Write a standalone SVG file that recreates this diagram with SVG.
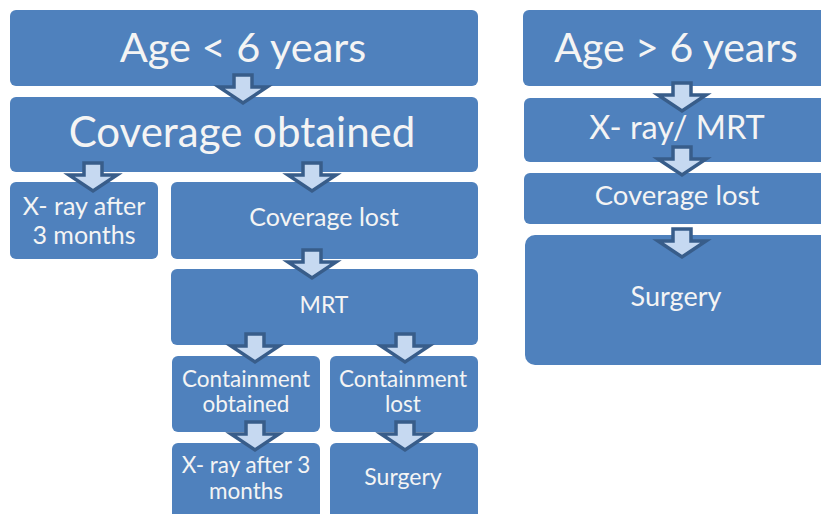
<svg xmlns="http://www.w3.org/2000/svg" xmlns:xlink="http://www.w3.org/1999/xlink" width="821" height="514" viewBox="0 0 821 514">
<style>
.box{fill:#4F81BD;}
.t{fill:#F4F4F4;font-family:Lato,"Liberation Sans",sans-serif;text-anchor:middle;}
.arr{fill:#C6D9F1;stroke:#385D8A;stroke-width:3.5;stroke-linejoin:miter;}
</style>
<defs>
<path id="ar" class="arr" d="M-9,0 h18 v12 h15 l-24,16 l-24,-16 h15 z"/>
</defs>
<rect width="821" height="514" fill="#FFFFFF"/>
<g id="n1"><rect class="box" x="10" y="10" width="468" height="76" rx="6"/><text class="t" x="243" y="62" font-size="41.5">Age &lt; 6 years</text></g>
<g id="n2"><rect class="box" x="10" y="97" width="468" height="75" rx="6"/><text class="t" x="242" y="147" font-size="42">Coverage obtained</text></g>
<g id="n3"><rect class="box" x="10" y="182" width="148" height="77" rx="6"/><text class="t" x="84" y="215" font-size="25">X- ray after</text><text class="t" x="84" y="244" font-size="25">3 months</text></g>
<g id="n4"><rect class="box" x="171" y="182" width="307" height="77" rx="6"/><text class="t" x="324" y="226" font-size="25">Coverage lost</text></g>
<g id="n5"><rect class="box" x="171" y="269" width="307" height="76" rx="6"/><text class="t" x="324" y="313" font-size="23">MRT</text></g>
<g id="n6"><rect class="box" x="172" y="356" width="148" height="76" rx="6"/><text class="t" x="246" y="387" font-size="22.5">Containment</text><text class="t" x="246" y="412" font-size="22.5">obtained</text></g>
<g id="n7"><rect class="box" x="330" y="356" width="148" height="76" rx="6"/><text class="t" x="403" y="387" font-size="22.5">Containment</text><text class="t" x="403" y="412" font-size="22.5">lost</text></g>
<g id="n8"><rect class="box" x="172" y="443" width="148" height="90" rx="6"/><text class="t" x="246" y="473" font-size="22.5">X- ray after 3</text><text class="t" x="246" y="499" font-size="22.5">months</text></g>
<g id="n9"><rect class="box" x="330" y="443" width="148" height="90" rx="6"/><text class="t" x="403" y="485" font-size="23">Surgery</text></g>
<g id="n10"><rect class="box" x="523" y="10" width="320" height="76" rx="6"/><text class="t" x="676" y="62" font-size="41">Age &gt; 6 years</text></g>
<g id="n11"><rect class="box" x="524" y="98" width="320" height="64" rx="6"/><text class="t" x="677" y="139" font-size="32.5">X- ray/ MRT</text></g>
<g id="n12"><rect class="box" x="524" y="173" width="320" height="51" rx="6"/><text class="t" x="677" y="205" font-size="27.5">Coverage  lost</text></g>
<g id="n13"><rect class="box" x="525" y="235" width="320" height="130" rx="10"/><text class="t" x="676" y="306" font-size="27">Surgery</text></g>
<g id="connectors">
<use xlink:href="#ar" x="243" y="75"/>
<use xlink:href="#ar" x="93" y="163"/>
<use xlink:href="#ar" x="312" y="163"/>
<use xlink:href="#ar" x="312" y="250"/>
<use xlink:href="#ar" x="255" y="334"/>
<use xlink:href="#ar" x="405" y="334"/>
<use xlink:href="#ar" x="255" y="422"/>
<use xlink:href="#ar" x="405" y="422"/>
<use xlink:href="#ar" x="682" y="83"/>
<use xlink:href="#ar" x="682" y="147"/>
<use xlink:href="#ar" x="682" y="229"/>
</g>
</svg>
